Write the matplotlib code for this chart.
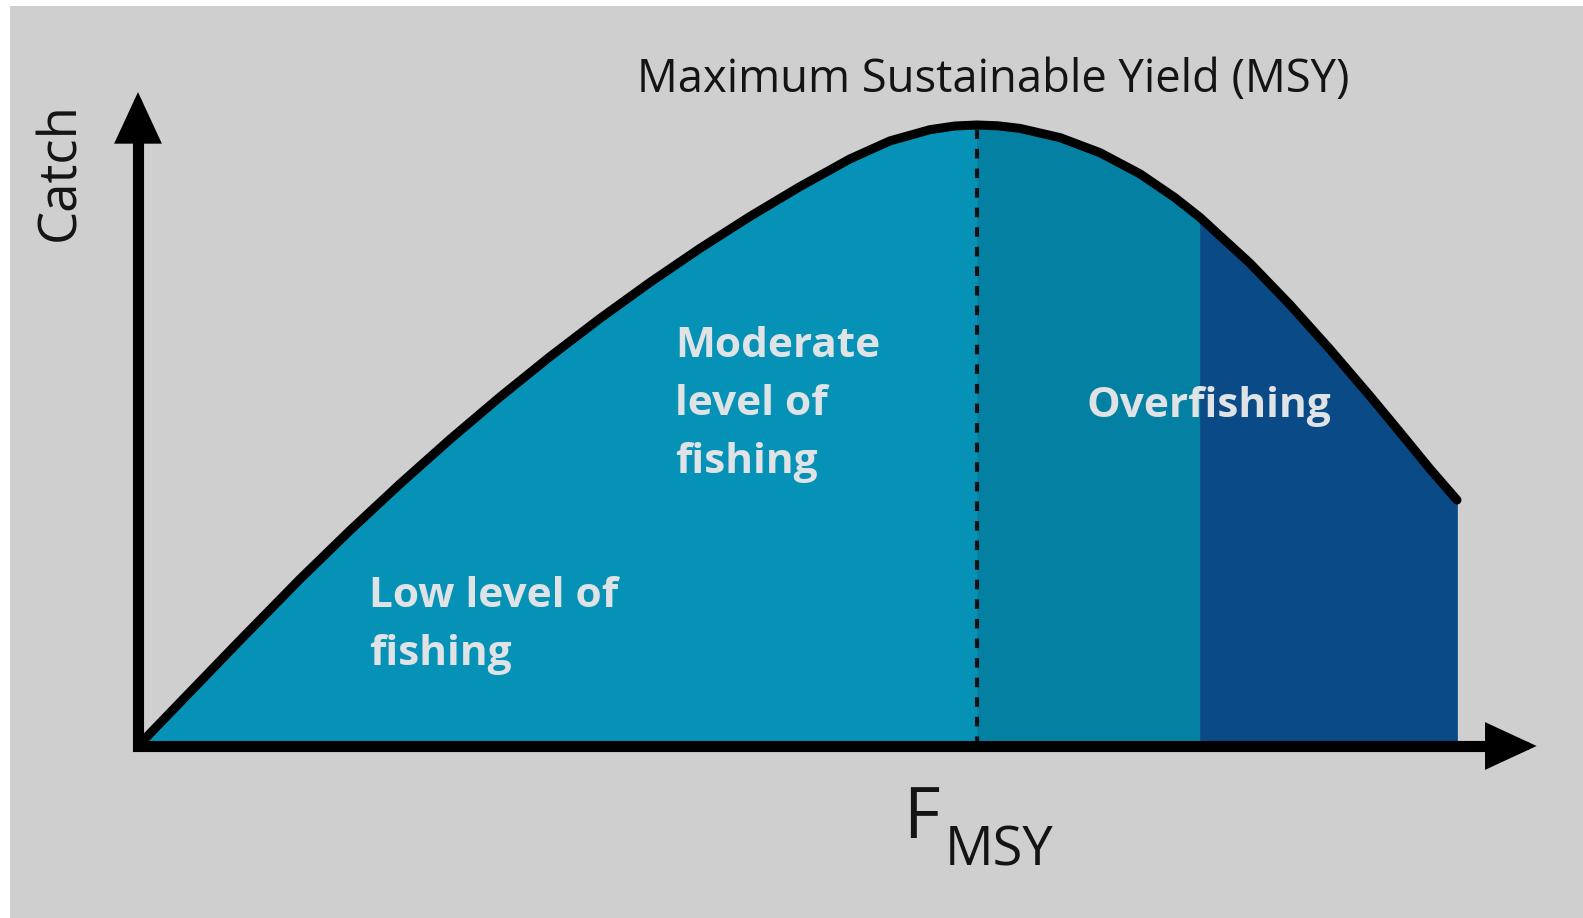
import numpy as np
import matplotlib
matplotlib.use("Agg")
import matplotlib.pyplot as plt
from matplotlib.patches import Rectangle

# fishing effort as a fraction of F_MSY, catch as a fraction of MSY
effort = [0, 0.0596, 0.1192, 0.1931, 0.2527, 0.3123, 0.3719, 0.4315, 0.4911,
          0.5507, 0.6103, 0.6698, 0.7294, 0.7890, 0.8486, 0.8963, 0.9440, 0.9738,
          1.0, 1.0250, 1.0513, 1.0989, 1.1466, 1.1943, 1.2360, 1.2658, 1.3254,
          1.3731, 1.4207, 1.4684, 1.5042, 1.5399, 1.5721]
catch = [0, 0.0835, 0.1669, 0.2688, 0.3471, 0.4221, 0.4938, 0.5621, 0.6270,
         0.6885, 0.7466, 0.8013, 0.8527, 0.9008, 0.9454, 0.9744, 0.9925, 0.9984,
         1.0, 0.9987, 0.9945, 0.9797, 0.9554, 0.9213, 0.8829, 0.8511, 0.7773,
         0.7105, 0.6388, 0.5635, 0.5052, 0.4462, 0.3961]

F_MSY = 1.0
MSY = 1.0
F_DARK = 1.266  # where the dark overfishing band starts

low_label = ["Low level of", "fishing"]
moderate_label = ["Moderate", "level of", "fishing"]
over_label = ["Overfishing"]

BG = "#cfcfcf"
C_LOW = "#0692b6"
C_MID = "#0480a2"
C_DARK = "#0a4a86"
TXT_LIGHT = "#dfe3e6"
INK = "#141414"

plt.rcParams["font.family"] = ["Open Sans", "DejaVu Sans"]


def main():
    x = np.array(effort)
    y = np.array(catch)

    fig = plt.figure(figsize=(15.83, 9.18), dpi=100)
    fig.patch.set_facecolor("white")
    fig.patches.append(Rectangle((10 / 1583, 0), 1, 1 - 6 / 918,
                                 transform=fig.transFigure, facecolor=BG,
                                 edgecolor="none", zorder=0))

    ax = fig.add_axes([0, 0, 1, 1])
    ax.set_zorder(1)
    ax.set_facecolor("none")
    ax.set_xlim(-138 / 839, (1583 - 138) / 839)
    ax.set_ylim((746 - 918) / 621, 746 / 621)
    ax.axis("off")

    i_msy = int(np.argmin(np.abs(x - F_MSY)))
    i_dark = int(np.argmin(np.abs(x - F_DARK)))

    ax.fill_between(x[:i_msy + 1], y[:i_msy + 1], color=C_LOW, lw=0.5, zorder=1)
    ax.fill_between(x[i_msy:i_dark + 1], y[i_msy:i_dark + 1], color=C_MID, lw=0.5, zorder=1)
    ax.fill_between(x[i_dark:], y[i_dark:], color=C_DARK, lw=0.5, zorder=1)

    ax.vlines(F_MSY, 0, MSY, colors="#111111", lw=3, linestyles=(0, (2.3, 2.4)), zorder=2)

    ax.plot(x, y, color="black", lw=6.5, solid_capstyle="round",
            solid_joinstyle="round", zorder=3)

    # axes: one polyline for the corner, arrow heads on the ends
    y_top, x_end = 1.053, 1.667
    ax.plot([0, 0, x_end - 0.03], [y_top - 0.04, 0, 0], color="black", lw=8,
            solid_joinstyle="miter", solid_capstyle="butt", zorder=4)
    arrow = dict(arrowstyle="-|>,head_length=2.7,head_width=1.25", mutation_scale=10,
                 lw=6, color="black", shrinkA=0, shrinkB=0, joinstyle="miter")
    ax.annotate("", xy=(0, y_top), xytext=(0, y_top - 0.1), arrowprops=arrow, zorder=4)
    ax.annotate("", xy=(x_end, 0), xytext=(x_end - 0.08, 0), arrowprops=arrow, zorder=4)

    ax.text(0.595, 1.053, "Maximum Sustainable Yield (MSY)", fontsize=32.7,
            color=INK, ha="left", va="baseline")
    ax.text(-0.0765, 0.925, "Catch", fontsize=38, color=INK, rotation=90,
            rotation_mode="anchor", ha="center", va="baseline")
    ax.text(0.912, -0.148, "F", fontsize=51, color=INK, ha="left", va="baseline")
    ax.text(0.962, -0.192, "MSY", fontsize=39, color=INK, ha="left", va="baseline")

    step = 58 / 621
    for lines, x0, y0 in [(low_label, 0.275, 0.224),
                          (moderate_label, 0.640, 0.627),
                          (over_label, 1.130, 0.530)]:
        for k, line in enumerate(lines):
            ax.text(x0, y0 - k * step, line, fontsize=30.5, fontweight="bold",
                    color=TXT_LIGHT, ha="left", va="baseline", zorder=5)

    fig.savefig("out.png", dpi=100, facecolor=fig.get_facecolor())
    plt.close(fig)


if __name__ == "__main__":
    main()
